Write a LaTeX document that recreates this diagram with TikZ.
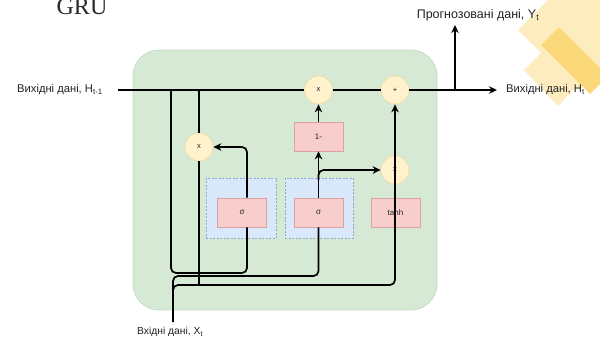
\documentclass[tikz,border=0pt]{standalone}
\usepackage{fontspec}
\setmainfont{Liberation Sans}
\newfontfamily\grufont{Liberation Serif}
\usetikzlibrary{arrows.meta}
\definecolor{ylight}{RGB}{253,236,190}
\definecolor{ydark}{RGB}{251,216,122}
\definecolor{cellfill}{RGB}{214,233,212}
\definecolor{celldraw}{RGB}{196,220,194}
\definecolor{gatefill}{RGB}{218,232,252}
\definecolor{gatedraw}{RGB}{138,168,204}
\definecolor{opfill}{RGB}{248,206,204}
\definecolor{opdraw}{RGB}{222,160,160}
\definecolor{circfill}{RGB}{255,242,204}
\definecolor{circdraw}{RGB}{242,222,166}
\definecolor{txt}{RGB}{34,34,34}
\definecolor{titlecol}{RGB}{40,40,40}
\tikzset{
  cellbox/.style={draw=celldraw, fill=cellfill, rounded corners=26pt, line width=0.8pt},
  gatebox/.style={draw=gatedraw, fill=gatefill, dash pattern=on 2pt off 1.5pt, line width=0.9pt, minimum height=60pt},
  opbox/.style={draw=opdraw, fill=opfill, line width=0.7pt, minimum width=49pt, minimum height=29pt, inner sep=0pt, font=\fontsize{8}{9}\selectfont, text=txt},
  opcirc/.style={circle, draw=circdraw, fill=circfill, line width=0.7pt, minimum size=28pt, inner sep=0pt, font=\fontsize{7.5}{8}\selectfont, text=txt},
  wire/.style={line width=1.7pt, black},
  arr/.style={wire, -{Stealth[length=8pt,width=7.5pt]}},
  lbl/.style={font=\fontsize{11.2}{13}\selectfont, text=txt, inner sep=0pt}
}
\begin{document}
\begin{tikzpicture}[x=1pt,y=-1pt]
\useasboundingbox (0,0) rectangle (600,343);
\begin{scope}
\clip (0,0) rectangle (600,343);
\fill[ylight] (518,30) -- (578,-30) -- (638,30) -- (578,90) -- cycle;
\fill[ylight] (524,70) -- (558,36) -- (592,70) -- (558,106) -- cycle;
\fill[ydark] (559,27) -- (541,45) -- (590,94) -- (608,76) -- cycle;
\end{scope}
\node[anchor=base, font=\grufont\fontsize{24}{24}\selectfont, text=titlecol, inner sep=0pt] (title) at (82,14) {GRU};

\node[cellbox, minimum width=304pt, minimum height=260pt] (cell) at (285,180) {};
\node[gatebox, minimum width=70pt] (g1) at (241,208) {};
\node[gatebox, minimum width=68pt] (g2) at (319,208) {};

\node[opbox] (s1) at (242,212.5) {σ};
\node[opbox] (s2) at (318.5,212.5) {σ};
\node[opbox] (th) at (395.5,212.5) {tanh};
\node[opbox] (one) at (318.5,136.5) {1-};

\node[opcirc] (mR) at (199,147) {x};
\node[opcirc] (m1) at (318.5,90) {x};
\node[opcirc] (pl) at (395,90) {+};
\node[opcirc] (mZ) at (395,170) {x};

\coordinate (hin) at (118,90);
\coordinate (hout) at (497,90);
\coordinate (yb) at (455,90);
\coordinate (yt) at (455,25);
\coordinate (a1) at (171,90);
\coordinate (a2) at (199,90);
\coordinate (xin) at (173,322);
\coordinate (s1in) at ([xshift=5pt]s1.south);
\coordinate (s1out) at ([xshift=5pt]s1.north);

% main line
\draw[wire] (hin) -- (m1);
\draw[wire] (m1) -- (pl);
\draw[arr] (pl) -- (hout);
\draw[arr] (yb) -- (yt);

% left branches
\draw[wire] (a2) -- (mR);
\draw[wire] (mR) -- (199,285);
\draw[wire, rounded corners=5pt] (a1) -- (171,273) -- (247,273) -- (s1in);
\draw[arr, rounded corners=5pt] (s1out) |- (mR);

% input X_t
\draw[arr, rounded corners=5pt] (xin) -- (173,285) -- (395,285) -- (pl);
\draw[wire, rounded corners=5pt] (173,292) -- (173,276) -- (318.5,276) -- (s2);

% update gate
\draw[arr] (s2) -- (one);
\draw[arr] (one) -- (m1);
\draw[arr, rounded corners=5pt] (318.5,180) -- (318.5,170) -- (mZ);

% labels
\node[lbl, anchor=west] (lh) at (17,90) {Вихідні дані, H\textsubscript{t-1}};
\node[lbl, font=\fontsize{12.5}{14}\selectfont] (ly) at (478,15) {Прогнозовані дані, Y\textsubscript{t}};
\node[lbl, anchor=west] (lho) at (506,90) {Вихідні дані, H\textsubscript{t}};
\node[lbl, font=\fontsize{10.3}{12}\selectfont, anchor=west] (lx) at (137,332) {Вхідні дані, X\textsubscript{t}};
\end{tikzpicture}
\end{document}
